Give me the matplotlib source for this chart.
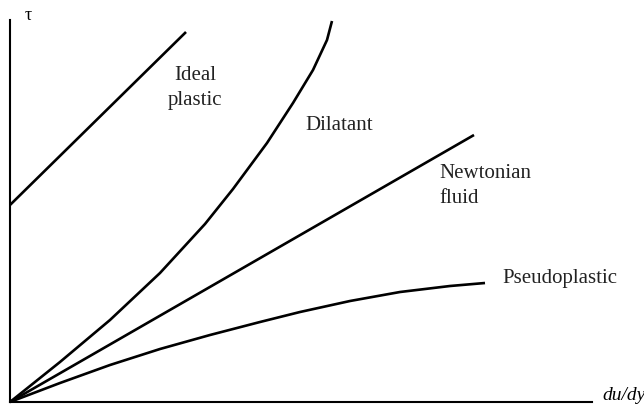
import matplotlib.pyplot as plt

# values (arbitrary units, origin at lower left)
ideal_x = [0, 176]
ideal_y = [197, 370]

dilatant_x = [0, 50, 100, 150, 195, 223, 257, 283, 303, 317, 322]
dilatant_y = [0, 40, 82, 129, 178, 213, 259, 299, 332, 362, 381]

newton_x = [0, 464]
newton_y = [0, 267]

pseudo_x = [0, 50, 100, 150, 200, 250, 290, 340, 390, 440, 475]
pseudo_y = [0, 19, 37, 53, 67, 80, 90, 101, 110, 116, 119]

labels = ['Ideal\nplastic', 'Dilatant', 'Newtonian\nfluid', 'Pseudoplastic']

plt.rcParams['font.family'] = ['Liberation Serif', 'DejaVu Serif']

fig = plt.figure(figsize=(6.44, 4.05), dpi=100)
ax = fig.add_axes([10 / 644, 3 / 405, 582 / 644, 382 / 405])

for xs, ys in [(ideal_x, ideal_y), (dilatant_x, dilatant_y),
               (newton_x, newton_y), (pseudo_x, pseudo_y)]:
    ax.plot(xs, ys, color='black', lw=1.9, clip_on=False,
            solid_capstyle='butt', solid_joinstyle='round')

ax.set_xlim(0, 582)
ax.set_ylim(0, 382)
ax.set_xticks([])
ax.set_yticks([])
for s in ['top', 'right']:
    ax.spines[s].set_visible(False)
for s in ['left', 'bottom']:
    ax.spines[s].set_linewidth(1.5)

fs = 15
ax.text(185, 314, labels[0], fontsize=fs, ha='center', va='center',
        linespacing=1.4, color='#222222')
ax.text(295, 276, labels[1], fontsize=fs, ha='left', va='center', color='#222222')
ax.text(429, 216, labels[2], fontsize=fs, ha='left', va='center',
        linespacing=1.4, color='#222222')
ax.text(492, 124, labels[3], fontsize=fs, ha='left', va='center', color='#222222')

ax.text(18, 386, 'τ', fontsize=fs - 2, ha='center', va='center', clip_on=False)
ax.text(592, 7, 'du/dy', fontsize=fs - 1, style='italic', ha='left',
        va='center', clip_on=False)

fig.savefig('out.png', dpi=100)
